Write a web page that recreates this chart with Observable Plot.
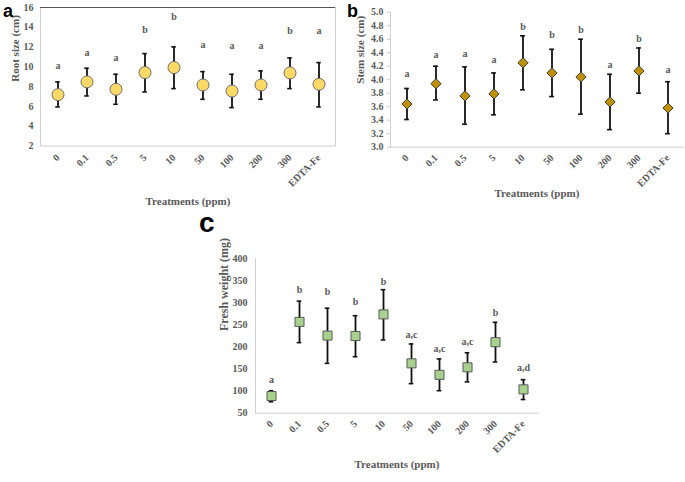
<!DOCTYPE html>
<html>
<head>
<meta charset="utf-8">
<script src="https://cdn.jsdelivr.net/npm/d3@7"></script>
<script src="https://cdn.jsdelivr.net/npm/@observablehq/plot@0.6"></script>
<style>
  body { margin: 0; background: #fff; }
  #fig { position: relative; width: 685px; height: 482px; overflow: hidden; background: #fff; }
  #fig > svg, #fig > div { position: absolute; }
</style>
</head>
<body>
<div id="fig"></div>
<script>
// ---------- data ----------
const treatments = ["0", "0.1", "0.5", "5", "10", "50", "100", "200", "300", "EDTA-Fe"];

const rootMean    = [7.19, 8.48, 7.73, 9.42, 9.93, 8.17, 7.56, 8.17, 9.39, 8.24];
const rootHigh    = [8.48, 9.86, 9.25, 11.34, 12.02, 9.52, 9.25, 9.59, 10.9, 10.43];
const rootLow     = [5.95, 7.06, 6.22, 7.46, 7.8, 6.72, 5.88, 6.72, 7.8, 5.95];
const rootLetters = ["a", "a", "a", "b", "b", "a", "a", "a", "b", "a"];
const rootLetterY = [10.1, 11.45, 10.9, 13.7, 15.06, 12.19, 12.09, 12.09, 13.64, 13.64];
const rootTicks   = [2, 4, 6, 8, 10, 12, 14, 16];

const stemMean    = [3.64, 3.94, 3.76, 3.79, 4.25, 4.10, 4.04, 3.67, 4.13, 3.58];
const stemHigh    = [3.87, 4.20, 4.19, 4.10, 4.65, 4.45, 4.60, 4.08, 4.47, 3.97];
const stemLow     = [3.41, 3.70, 3.34, 3.48, 3.85, 3.75, 3.49, 3.26, 3.80, 3.20];
const stemLetters = ["a", "a", "a", "a", "b", "b", "b", "a", "b", "a"];
const stemLetterY = [4.09, 4.37, 4.38, 4.30, 4.78, 4.66, 4.74, 4.22, 4.60, 4.15];
const stemTicks   = [3.0, 3.2, 3.4, 3.6, 3.8, 4.0, 4.2, 4.4, 4.6, 4.8, 5.0];

const weightMean    = [89, 257, 226, 225, 274, 163, 137, 154, 211, 104];
const weightHigh    = [101, 304, 288, 271, 330, 207, 173, 187, 256, 126];
const weightLow     = [76, 210, 163, 178, 216, 117, 101, 121, 166, 81];
const weightLetters = ["a", "b", "b", "b", "b", "a,c", "a,c", "a,c", "b", "a,d"];
const weightLetterY = [126, 330, 326, 302, 349, 228, 196, 211, 278, 154];
const weightTicks   = [50, 100, 150, 200, 250, 300, 350, 400];

const xTitle = "Treatments (ppm)";

// ---------- helpers ----------
const fig = document.getElementById("fig");
const grey = "#595959";
const serif = "'Liberation Serif', 'Times New Roman', serif";

function rows(mean, high, low, letters, letterY) {
  return treatments.map((t, i) => ({t, mean: mean[i], high: high[i], low: low[i], letter: letters[i], ly: letterY[i]}));
}

function panel(opts) {
  const data = rows(opts.mean, opts.high, opts.low, opts.letters, opts.letterY);
  const marks = [];
  if (opts.box) {
    marks.push(Plot.frame({stroke: "#d0d0d0"}));
    marks.push(Plot.ruleY([opts.domain[1]], {stroke: "#555"}));
  } else {
    marks.push(Plot.frame({anchor: "left", stroke: "#d0d0d0"}));
    marks.push(Plot.frame({anchor: "bottom", stroke: "#d0d0d0"}));
  }
  marks.push(
    Plot.axisY({ticks: opts.ticks, tickFormat: opts.tickFormat, tickSize: opts.yTickSize, tickPadding: opts.yTickPadding,
      stroke: "#c8c8c8", fill: grey, label: null, fontSize: 10}),
    Plot.axisX({tickRotate: -45, tickSize: 0, tickPadding: opts.xTickPadding, fill: grey, label: null, fontSize: 10}),
    Plot.ruleX(data, {x: "t", y1: "low", y2: "high", stroke: "#111", strokeWidth: 1.8}),
    Plot.tickY(data, {x: "t", y: "high", stroke: "#111", strokeWidth: 1.6, insetLeft: opts.capInset, insetRight: opts.capInset}),
    Plot.tickY(data, {x: "t", y: "low", stroke: "#111", strokeWidth: 1.6, insetLeft: opts.capInset, insetRight: opts.capInset}),
    Plot.dot(data, {x: "t", y: "mean", symbol: opts.symbol, r: opts.r, fill: opts.fill, stroke: opts.stroke, strokeWidth: 1}),
    Plot.text(data, {x: "t", y: "ly", text: "letter", fill: grey, fontSize: 10, fontWeight: "bold", lineAnchor: "middle"}),
    Plot.text([opts.yTitle], {frameAnchor: "left", rotate: -90, dx: opts.yTitleDx, dy: opts.yTitleDy, fill: grey, fontSize: opts.yTitleSize, fontWeight: "bold"}),
    Plot.text([xTitle], {frameAnchor: "bottom", dy: opts.xTitleDy, lineAnchor: "middle", fill: grey, fontSize: 11, fontWeight: "bold"})
  );
  const svg = Plot.plot({
    width: opts.width, height: opts.height,
    marginLeft: opts.ml, marginRight: opts.mr, marginTop: opts.mt, marginBottom: opts.mb,
    x: {type: "band", domain: treatments, padding: 0},
    y: {domain: opts.domain},
    style: {fontFamily: serif, fontWeight: "bold", fontSize: "10px", color: grey, background: "transparent", overflow: "visible"},
    marks
  });
  svg.style.left = opts.left + "px";
  svg.style.top = opts.top + "px";
  fig.appendChild(svg);
}

// ---------- panel a ----------
panel({
  left: 0, top: 0, width: 340, height: 230, ml: 40, mr: 5, mt: 7, mb: 84.5,
  mean: rootMean, high: rootHigh, low: rootLow, letters: rootLetters, letterY: rootLetterY,
  domain: [2, 16], ticks: rootTicks, tickFormat: d3.format("d"), yTickSize: 0, yTickPadding: 7, xTickPadding: 10,
  box: true, symbol: "circle", r: 6, fill: "#FFD966", stroke: "#6e6e6e", capInset: 12.25,
  yTitle: "Root size (cm)", yTitleDx: -25, yTitleDy: 5, yTitleSize: 11, xTitleDy: 55.5
});

// ---------- panel b ----------
panel({
  left: 340, top: 0, width: 345, height: 230, ml: 50, mr: 2, mt: 11.7, mb: 83.3,
  mean: stemMean, high: stemHigh, low: stemLow, letters: stemLetters, letterY: stemLetterY,
  domain: [3, 5], ticks: stemTicks, tickFormat: d3.format(".1f"), yTickSize: 3, yTickPadding: 4, xTickPadding: 9,
  box: false, symbol: "diamond2", r: 4.6, fill: "#BF9000", stroke: "#3a3a3a", capInset: 12.1,
  yTitle: "Stem size (cm)", yTitleDx: -30, yTitleDy: 4, yTitleSize: 11, xTitleDy: 46
});

// ---------- panel c ----------
panel({
  left: 200, top: 240, width: 345, height: 242, ml: 55, mr: 7, mt: 18.3, mb: 69.3,
  mean: weightMean, high: weightHigh, low: weightLow, letters: weightLetters, letterY: weightLetterY,
  domain: [50, 400], ticks: weightTicks, tickFormat: d3.format("d"), yTickSize: 0, yTickPadding: 8, xTickPadding: 9,
  box: false, symbol: "square", r: 5.1, fill: "#A9D18E", stroke: "#5a5a5a", capInset: 11.7,
  yTitle: "Fresh weight (mg)", yTitleDx: -31, yTitleDy: -5, yTitleSize: 12, xTitleDy: 51
});

// ---------- panel letters ----------
const ns = "http://www.w3.org/2000/svg";
const over = document.createElementNS(ns, "svg");
over.setAttribute("width", 685);
over.setAttribute("height", 482);
over.style.left = "0px"; over.style.top = "0px"; over.style.pointerEvents = "none";
[["a", 3, 16.5, 18], ["b", 347, 17, 18], ["c", 199, 232, 28]].forEach(([t, x, y, s]) => {
  const el = document.createElementNS(ns, "text");
  el.setAttribute("x", x); el.setAttribute("y", y);
  el.setAttribute("font-family", "'Liberation Sans', Arial, sans-serif");
  el.setAttribute("font-weight", "bold");
  el.setAttribute("font-size", s);
  el.setAttribute("fill", "#000");
  el.textContent = t;
  over.appendChild(el);
});
fig.appendChild(over);
</script>
</body>
</html>
